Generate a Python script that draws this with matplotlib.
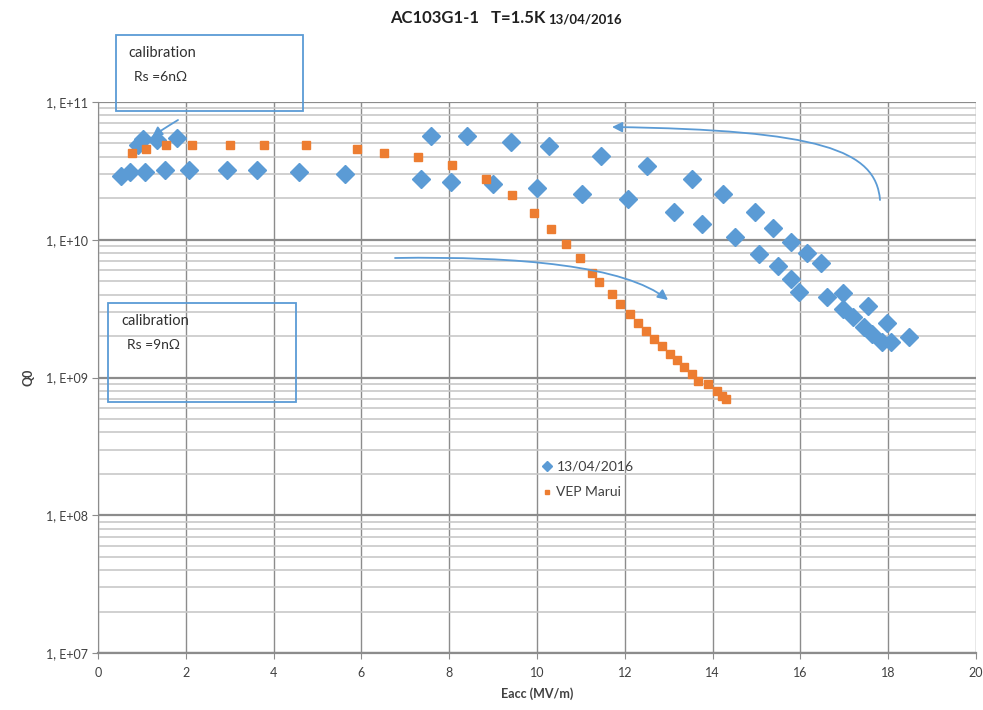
import matplotlib
matplotlib.use("Agg")
import matplotlib.pyplot as plt
from matplotlib.patches import FancyArrowPatch, Rectangle
from matplotlib.path import Path
from matplotlib.ticker import FixedLocator, LogLocator, NullFormatter

plt.rcParams['font.family'] = ['Lato', 'DejaVu Sans']

# ---- data ----
meas_label = "13/04/2016"
meas_eacc = [0.52, 0.74, 1.07, 1.53, 2.07, 2.94, 3.62, 4.57, 5.62,
             0.91, 1.02, 1.34, 1.80,
             7.35, 8.03, 7.58, 8.40, 8.99, 9.41, 10.00, 10.27, 11.03, 11.45,
             12.08, 12.50, 13.13, 13.54, 13.76, 14.23, 14.51, 14.97, 15.05,
             15.38, 15.50, 15.79, 15.79, 15.96, 16.14, 16.47, 16.60, 16.96,
             16.96, 17.19, 17.53, 17.45, 17.64, 17.97, 17.87, 18.07, 18.48]
meas_q0 = [2.90e10, 3.12e10, 3.12e10, 3.23e10, 3.23e10, 3.23e10, 3.23e10, 3.10e10, 3.00e10,
           4.88e10, 5.43e10, 5.30e10, 5.51e10,
           2.75e10, 2.64e10, 5.69e10, 5.69e10, 2.54e10, 5.15e10, 2.39e10, 4.82e10, 2.15e10, 4.08e10,
           1.97e10, 3.43e10, 1.60e10, 2.75e10, 1.30e10, 2.15e10, 1.04e10, 1.60e10, 7.93e9,
           1.22e10, 6.45e9, 9.69e9, 5.17e9, 4.18e9, 7.98e9, 6.75e9, 3.83e9, 4.09e9,
           3.13e9, 2.74e9, 3.32e9, 2.34e9, 2.07e9, 2.48e9, 1.80e9, 1.80e9, 1.96e9]

vep_label = "VEP Marui"
vep_eacc = [0.77, 1.09, 1.55, 2.15, 3.00, 3.78, 4.74, 5.91, 6.51, 7.29, 8.07, 8.83,
            9.44, 9.93, 10.33, 10.66, 10.97, 11.26, 11.42, 11.70, 11.89, 12.12,
            12.29, 12.48, 12.66, 12.84, 13.03, 13.20, 13.34, 13.52, 13.67, 13.89,
            14.11, 14.21, 14.30]
vep_q0 = [4.29e10, 4.58e10, 4.90e10, 4.90e10, 4.90e10, 4.90e10, 4.90e10, 4.58e10, 4.29e10,
          4.01e10, 3.51e10, 2.78e10, 2.13e10, 1.57e10, 1.19e10, 9.27e9, 7.34e9, 5.77e9,
          4.92e9, 4.02e9, 3.40e9, 2.88e9, 2.50e9, 2.19e9, 1.91e9, 1.68e9, 1.48e9, 1.33e9,
          1.20e9, 1.06e9, 9.5e8, 8.9e8, 8.0e8, 7.4e8, 7.0e8]

x_ticks = [0, 2, 4, 6, 8, 10, 12, 14, 16, 18, 20]
y_ticks = [1e7, 1e8, 1e9, 1e10, 1e11]
y_tick_labels = ["1, E+07", "1, E+08", "1, E+09", "1, E+10", "1, E+11"]

BLUE = "#5B9BD5"
ORANGE = "#ED7D31"

W, H = 983, 710
fig = plt.figure(figsize=(W / 100, H / 100), dpi=100)
L, R, T, B = 98, 976, 102, 653
ax = fig.add_axes([L / W, 1 - B / H, (R - L) / W, (B - T) / H])

ax.set_yscale('log')
ax.set_xlim(0, 20)
ax.set_ylim(1e7, 1e11)

ax.set_xticks(x_ticks)
ax.set_xticklabels([str(t) for t in x_ticks])
ax.yaxis.set_major_locator(FixedLocator(y_ticks))
ax.set_yticklabels(y_tick_labels)
ax.yaxis.set_minor_locator(LogLocator(base=10, subs=range(2, 10)))
ax.yaxis.set_minor_formatter(NullFormatter())

ax.grid(True, which='major', axis='x', color='#8c8c8c', lw=1.0)
ax.grid(True, which='major', axis='y', color='#8c8c8c', lw=1.6)
ax.grid(True, which='minor', axis='y', color='#c8c8c8', lw=1.2)
ax.set_axisbelow(True)

for s in ['top', 'right']:
    ax.spines[s].set_visible(False)
ax.spines['left'].set_color('#8c8c8c')
ax.spines['bottom'].set_color('#8c8c8c')
ax.spines['bottom'].set_linewidth(1.6)
ax.tick_params(axis='both', which='major', colors='#8c8c8c', length=4,
               labelcolor='#404040', labelsize=9)
ax.tick_params(axis='y', which='minor', length=0)
ax.tick_params(axis='x', pad=6)

ax.plot(meas_eacc, meas_q0, 'D', color=BLUE, markersize=9, label=meas_label, zorder=3)
ax.plot(vep_eacc, vep_q0, 's', color=ORANGE, markersize=5.5, label=vep_label, zorder=3)

ax.set_xlabel("Eacc (MV/m)", fontsize=9, fontweight='bold', color='#404040', labelpad=6)
ax.set_ylabel("Q0", fontsize=9, fontweight='bold', color='#404040', labelpad=8)

leg = ax.legend(loc='upper left', bbox_to_anchor=((537 - L) / (R - L), 1 - (455 - T) / (B - T)),
                frameon=False, fontsize=10, handlelength=0.6, handletextpad=0.4,
                labelspacing=1.0, markerscale=0.6, borderaxespad=0)
for t in leg.get_texts():
    t.set_color('#404040')

# title
fig.text(545 / W, 1 - 18 / H, "AC103G1-1   T=1.5K", ha='right', va='center',
         fontsize=12, fontweight='bold', color='#202020')
fig.text(548 / W, 1 - 19 / H, "13/04/2016", ha='left', va='center',
         fontsize=9.5, fontweight='bold', color='#202020')


def fx(px):
    return px / W


def fy(py):
    return 1 - py / H


# calibration boxes
for (x0, y0, x1, y1, txt, tx, ty) in [
        (116, 35, 303, 111, "Rs =6nΩ", 128, 53),
        (108, 303, 296, 402, "Rs =9nΩ", 121, 321)]:
    fig.patches.append(Rectangle((fx(x0), fy(y1)), fx(x1) - fx(x0), fy(y0) - fy(y1),
                                 transform=fig.transFigure, facecolor='none',
                                 edgecolor=BLUE, lw=1.3, zorder=5))
    fig.text(fx(tx), fy(ty), "calibration", fontsize=10.5, color='#303030', va='center')
    fig.text(fx(tx + 6), fy(ty + 24), txt, fontsize=10, color='#303030', va='center')

# arrows (figure-pixel Bezier paths)
curves = [
    [(178, 120), (165, 128), (160, 131), (152, 137)],
    [(880, 200), (876, 150), (820, 130), (612, 127)],
    [(395, 258), (520, 256), (625, 266), (668, 300)],
]
for pts in curves:
    verts = [(fx(px), fy(py)) for px, py in pts]
    path = Path(verts, [Path.MOVETO, Path.CURVE4, Path.CURVE4, Path.CURVE4])
    a = FancyArrowPatch(path=path, transform=fig.transFigure,
                        arrowstyle='-|>,head_length=6,head_width=3', color=BLUE,
                        lw=1.3, zorder=6)
    fig.patches.append(a)

fig.savefig("out.png", dpi=100)
